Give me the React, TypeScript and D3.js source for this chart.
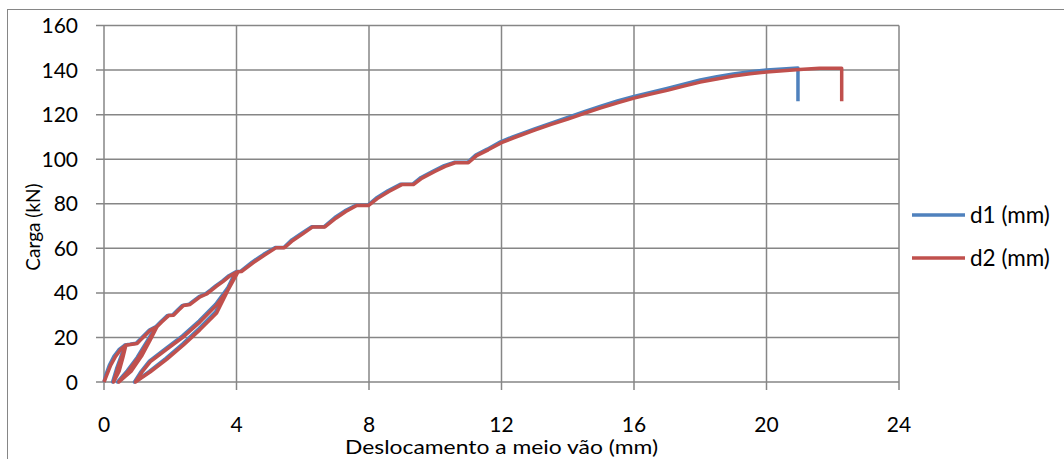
import React from "react";
import * as d3 from "d3";

const xTicks = [0, 4, 8, 12, 16, 20, 24];
const yTicks = [0, 20, 40, 60, 80, 100, 120, 140, 160];
const seriesNames = ["d1 (mm)", "d2 (mm)"];
const seriesColors = ["#4F81BD", "#C0504D"];
const xTitle = "Deslocamento a meio vão  (mm)";
const yTitle = "Carga (kN)";

const d1: [number, number][] = [
  [0, 0], [0.05, 3], [0.16, 7.5], [0.3, 11.5], [0.45, 14.5], [0.63, 16.6],
  [0.54, 11], [0.42, 5], [0.26, 0], [0.38, 6], [0.5, 11], [0.63, 16.6],
  [0.78, 16.9], [0.97, 17.4], [1.07, 18.9], [1.22, 21.1], [1.37, 23.3], [1.57, 24.9],
  [1.37, 19], [1.12, 12], [0.8, 5], [0.41, 0], [0.7, 5], [1.0, 11], [1.31, 18.5], [1.57, 24.9],
  [1.72, 27.1], [1.92, 29.9], [2.07, 30.1], [2.22, 32.3], [2.37, 34.4], [2.57, 34.9], [2.72, 36.6],
  [2.87, 38.3], [3.07, 39.6], [3.22, 41.3], [3.37, 43.1], [3.57, 45.3], [3.77, 47.7], [3.97, 49.4],
  [3.67, 40.3], [3.37, 31.5], [2.87, 24], [2.37, 17], [1.87, 10.6], [1.37, 4.8], [1.07, 1.5], [0.92, 0],
  [1.12, 4.7], [1.37, 9.4], [1.87, 15.1], [2.37, 20.7], [2.87, 27.4], [3.37, 34.9], [3.72, 41.9], [4.02, 49.6],
  [4.12, 49.7], [4.47, 53.8], [4.82, 57.3], [5.17, 60.4], [5.43, 60.4], [5.67, 63.8], [5.97, 66.8],
  [6.27, 69.7], [6.65, 69.7], [6.97, 73.8], [7.27, 76.8], [7.6, 79.3], [7.96, 79.3], [8.22, 82.6],
  [8.57, 85.8], [8.96, 88.8], [9.32, 88.8], [9.57, 91.8], [9.97, 94.9], [10.27, 97.1], [10.57, 98.6],
  [10.98, 98.6], [11.22, 101.9], [11.57, 104.5], [11.97, 107.8], [12.32, 109.9], [13.0, 113.6],
  [13.5, 116.2], [14.0, 118.7], [14.5, 121.3], [15.0, 123.8], [15.5, 126.1], [16.0, 128.2],
  [16.5, 130.0], [17.0, 131.8], [17.5, 133.7], [18.0, 135.6], [18.5, 137.0], [19.0, 138.2],
  [19.5, 139.2], [20.0, 140.0], [20.6, 140.6], [20.95, 140.9], [20.95, 126],
];

const d2: [number, number][] = [
  [0, 0], [0.08, 3], [0.2, 7.5], [0.35, 11.5], [0.5, 14.5], [0.66, 16.5],
  [0.57, 11], [0.46, 5], [0.29, 0], [0.41, 6], [0.53, 11], [0.66, 16.5],
  [0.8, 16.8], [1.0, 17.3], [1.1, 18.8], [1.25, 21], [1.4, 23.2], [1.6, 24.8],
  [1.4, 19], [1.15, 12], [0.83, 5], [0.45, 0], [0.74, 5], [1.04, 11], [1.35, 18.5], [1.6, 24.8],
  [1.75, 27], [1.95, 29.8], [2.1, 30], [2.25, 32.2], [2.4, 34.3], [2.6, 34.8], [2.75, 36.5],
  [2.9, 38.2], [3.1, 39.5], [3.25, 41.2], [3.4, 43], [3.6, 45.2], [3.8, 47.6], [4.0, 49.3],
  [3.7, 40], [3.4, 31], [2.9, 23.5], [2.4, 16.6], [1.9, 10.3], [1.4, 4.6], [1.1, 1.5], [0.95, 0],
  [1.15, 4.5], [1.4, 9.1], [1.9, 14.8], [2.4, 20.3], [2.9, 27], [3.4, 34.5], [3.75, 41.5], [4.05, 49.5],
  [4.15, 49.6], [4.5, 53.5], [4.85, 57], [5.2, 60.3], [5.45, 60.3], [5.7, 63.5], [6.0, 66.5],
  [6.3, 69.6], [6.67, 69.6], [7.0, 73.5], [7.3, 76.5], [7.63, 79.2], [7.98, 79.2], [8.25, 82.3],
  [8.6, 85.5], [8.99, 88.6], [9.34, 88.6], [9.6, 91.5], [10.0, 94.6], [10.3, 96.8], [10.6, 98.4],
  [11.0, 98.4], [11.25, 101.6], [11.6, 104.2], [12.0, 107.4], [12.35, 109.5], [13.0, 113],
  [13.5, 115.6], [14.0, 118], [14.5, 120.6], [15.0, 123], [15.5, 125.3], [16.0, 127.4],
  [16.5, 129.2], [17.0, 130.9], [17.5, 132.8], [18.0, 134.6], [18.5, 136.0], [19.0, 137.3],
  [19.5, 138.3], [20.0, 139.1], [20.5, 139.7], [21.0, 140.2], [21.6, 140.8], [22.27, 140.8], [22.27, 126],
];

const series = [d1, d2];

export default function App() {
  const W = 1064, H = 459;
  const left = 104, right = 899, top = 25.5, bottom = 382;
  const x = d3.scaleLinear().domain([0, 24]).range([left, right]);
  const y = d3.scaleLinear().domain([0, 160]).range([bottom, top]);
  const line = d3.line<[number, number]>().x((d) => x(d[0])).y((d) => y(d[1]));
  const grid = "#868686";
  const font = "Lato, 'Open Sans', sans-serif";

  return (
    <svg width={W} height={H} style={{ position: "absolute", left: 0, top: 0, background: "#fff" }}>
      <rect x={7.5} y={9.5} width={1100} height={500} fill="#fff" stroke={grid} strokeWidth={1} />
      {yTicks.map((t) => (
        <g key={"y" + t}>
          <line x1={left - 8} x2={right} y1={y(t)} y2={y(t)} stroke={grid} strokeWidth={1.5} />
          <text x={78} y={y(t) + 7.5} textAnchor="end" fontFamily={font} fontSize={21} fill="#000">{t}</text>
        </g>
      ))}
      {xTicks.map((t) => (
        <g key={"x" + t}>
          <line x1={x(t)} x2={x(t)} y1={top} y2={bottom + 8} stroke={grid} strokeWidth={1.5} />
          <text x={x(t)} y={432} textAnchor="middle" fontFamily={font} fontSize={21} fill="#000">{t}</text>
        </g>
      ))}
      {series.map((s, i) => (
        <path key={i} d={line(s) || ""} fill="none" stroke={seriesColors[i]} strokeWidth={3.5}
          strokeLinejoin="round" strokeLinecap="butt" />
      ))}
      <text x={(left + right) / 2} y={454} textAnchor="middle" fontFamily={font} fontSize={19}
        textLength={313} lengthAdjust="spacingAndGlyphs" fill="#000">{xTitle}</text>
      <text transform={`translate(40,227) rotate(-90)`} textAnchor="middle" fontFamily={font} fontSize={19} fill="#000">{yTitle}</text>
      {seriesNames.map((n, i) => (
        <g key={n}>
          <line x1={912} x2={965} y1={215 + i * 43} y2={215 + i * 43} stroke={seriesColors[i]} strokeWidth={3.5} />
          <text x={970} y={223 + i * 43} fontFamily={font} fontSize={22.5} fill="#000">{n}</text>
        </g>
      ))}
    </svg>
  );
}
